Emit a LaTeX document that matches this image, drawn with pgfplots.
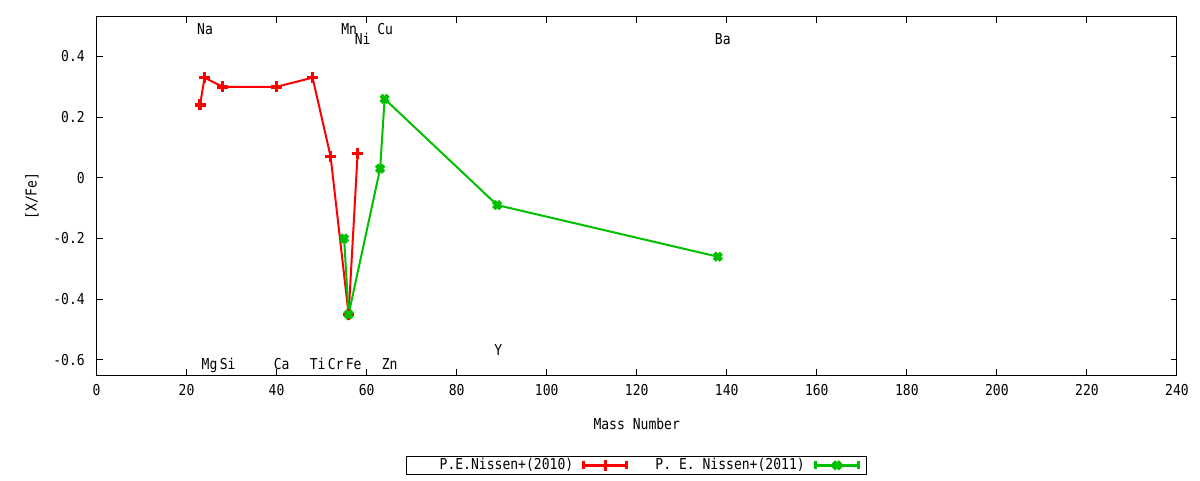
\documentclass[border=0pt]{standalone}
\usepackage{fontspec}
\setmainfont[FakeStretch=0.87]{DejaVu Sans Mono}
\usepackage{pgfplots}
\pgfplotsset{compat=1.18}
\definecolor{gred}{RGB}{255,0,0}
\definecolor{ggreen}{RGB}{0,192,0}
\begin{document}
\fontsize{15pt}{18pt}\selectfont
\begin{tikzpicture}[font=\fontsize{15pt}{18pt}\selectfont]
\useasboundingbox (0,0) rectangle (1200pt,480pt);
\begin{axis}[
  at={(96.5pt,105pt)}, anchor=south west,
  scale only axis, width=1080.5pt, height=358pt,
  xmin=0, xmax=240, ymin=-0.65, ymax=0.53,
  xtick={0,20,40,60,80,100,120,140,160,180,200,220,240},
  ytick={-0.6,-0.4,-0.2,0,0.2,0.4},
  yticklabels={-0.6,-0.4,-0.2,0,0.2,0.4},
  /pgf/number format/assume math mode=true,
  tick align=inside, tick pos=both, major tick length=6pt,
  minor tick num=0,
  axis line style={line width=1pt, black},
  every tick/.style={black, line width=1pt},
  yticklabel style={anchor=east, inner sep=0pt, xshift=-11.5pt},
  xticklabel style={anchor=north, inner sep=0pt, yshift=-9pt},
  xlabel={Mass Number},
  ylabel={[X/Fe]},
  xlabel style={at={(axis description cs:0.5,-0.1536)}, anchor=base, inner sep=0pt},
  ylabel style={at={(axis description cs:-0.0597,0.5)}, anchor=center, inner sep=0pt},
  clip=false,
  legend columns=2,
  legend plot pos=right,
  legend style={at={(axis description cs:0.5,-0.2249)}, anchor=north,
    draw=black, line width=1pt, inner xsep=6.5pt, inner ysep=2.5pt,
    nodes={inner sep=0pt},
    /tikz/column sep=9pt,
    /tikz/every even column/.append style={column sep=16pt}},
  legend image code/.code={%
    \draw[mark repeat=2,mark phase=2,#1,line width=3.5pt] plot coordinates {(0pt,0pt) (21.5pt,0pt) (43pt,0pt)};
    \draw[#1,line width=3pt] (0pt,-4pt) -- (0pt,4pt);
    \draw[#1,line width=3pt] (43pt,-4pt) -- (43pt,4pt);
  },
]
\addplot[color=gred, line width=2pt, mark=+, mark size=5.5pt, mark options={solid, line width=3.5pt}]
  coordinates {(23,0.24) (24,0.33) (28,0.30) (40,0.30) (48,0.33) (52,0.07) (56,-0.45) (58,0.08)};
\addlegendentry{\makebox[160pt][r]{P.E.Nissen+(2010)}}
\addplot[color=ggreen, line width=2pt, mark=x, mark size=5pt, mark options={solid, line width=4.5pt}]
  coordinates {(55,-0.20) (56,-0.45) (63,0.03) (64,0.26) (89,-0.09) (138,-0.26)};
\addlegendentry{\makebox[160pt][r]{P. E. Nissen+(2011)}}
\node[anchor=base west, inner sep=0pt, xshift=-3pt] at (axis cs:23,0.4725) {Na};
\node[anchor=base west, inner sep=0pt, xshift=-3pt] at (axis cs:24,-0.631) {Mg};
\node[anchor=base west, inner sep=0pt, xshift=-3pt] at (axis cs:28,-0.631) {Si};
\node[anchor=base west, inner sep=0pt, xshift=-3pt] at (axis cs:40,-0.631) {Ca};
\node[anchor=base west, inner sep=0pt, xshift=-3pt] at (axis cs:48,-0.631) {Ti};
\node[anchor=base west, inner sep=0pt, xshift=-3pt] at (axis cs:52,-0.631) {Cr};
\node[anchor=base west, inner sep=0pt, xshift=-3pt] at (axis cs:55,0.4725) {Mn};
\node[anchor=base west, inner sep=0pt, xshift=-3pt] at (axis cs:56,-0.631) {Fe};
\node[anchor=base west, inner sep=0pt, xshift=-3pt] at (axis cs:58,0.44) {Ni};
\node[anchor=base west, inner sep=0pt, xshift=-3pt] at (axis cs:63,0.4725) {Cu};
\node[anchor=base west, inner sep=0pt, xshift=-3pt] at (axis cs:64,-0.631) {Zn};
\node[anchor=base west, inner sep=0pt, xshift=-3pt] at (axis cs:89,-0.586) {Y};
\node[anchor=base west, inner sep=0pt, xshift=-3pt] at (axis cs:138,0.44) {Ba};
\end{axis}
\end{tikzpicture}
\end{document}
